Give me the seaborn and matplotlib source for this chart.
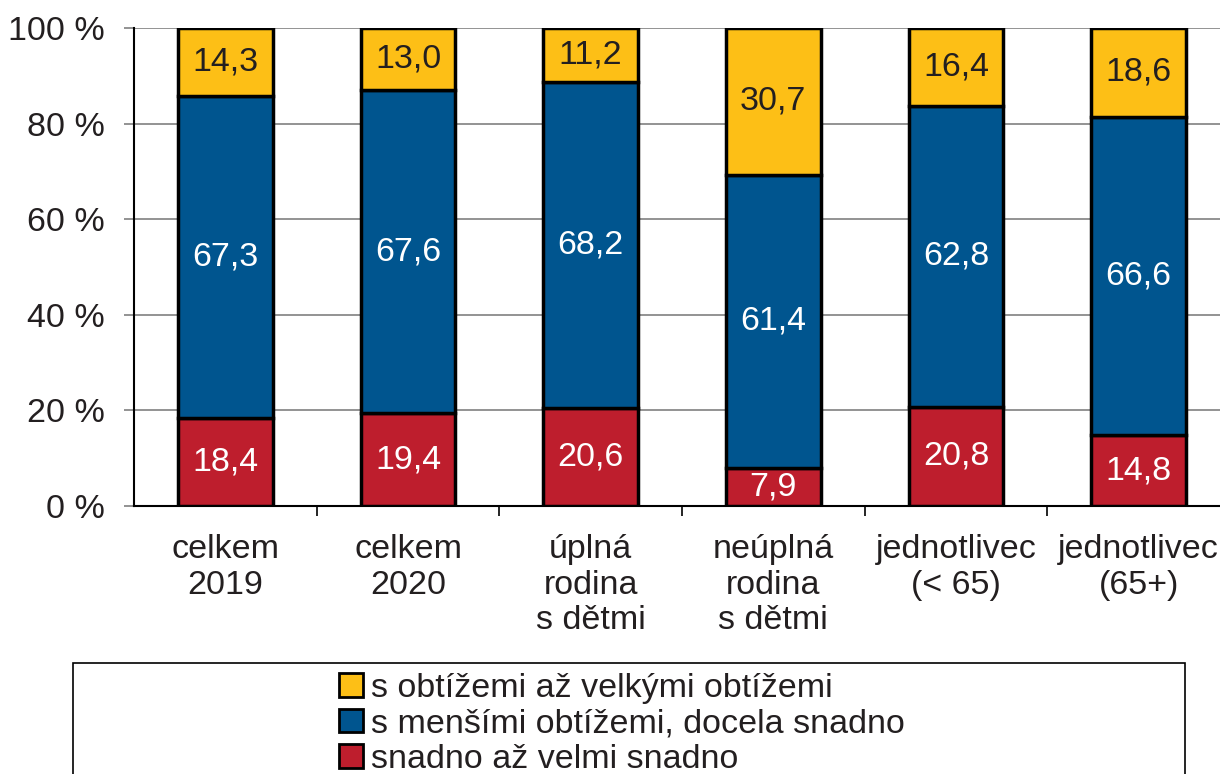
import pandas as pd
import matplotlib.pyplot as plt
import seaborn as sns
from matplotlib.patches import Rectangle, Patch

kategorie = ['celkem\n2019', 'celkem\n2020', 'úplná\nrodina\ns dětmi',
             'neúplná\nrodina\ns dětmi', 'jednotlivec\n(< 65)', 'jednotlivec\n(65+)']
snadno = [18.4, 19.4, 20.6, 7.9, 20.8, 14.8]
mensi = [67.3, 67.6, 68.2, 61.4, 62.8, 66.6]
obtize = [14.3, 13.0, 11.2, 30.7, 16.4, 18.6]
legenda = ['s obtížemi až velkými obtížemi',
           's menšími obtížemi, docela snadno',
           'snadno až velmi snadno']
barvy = ['#FDBF16', '#00558F', '#BE1E2D']

sns.set_style('white')
plt.rcParams['font.family'] = ['Liberation Sans', 'DejaVu Sans']
text_col = '#231F20'
fs = 24.5

df = pd.DataFrame({'kat': kategorie, 'snadno': snadno, 'mensi': mensi, 'obtize': obtize})
df['b2'] = df['snadno']
df['b3'] = df['snadno'] + df['mensi']

fig = plt.figure(figsize=(12.2, 7.74), dpi=100)
ax = fig.add_axes([134 / 1220, (774 - 506) / 774, 1096 / 1220, 478 / 774])

kw = dict(width=0.52, edgecolor='black', linewidth=2.5, saturation=1, ax=ax, zorder=3)
sns.barplot(data=df, x='kat', y='snadno', color=barvy[2], **kw)
sns.barplot(data=df, x='kat', y='mensi', bottom=df['b2'], color=barvy[1], **kw)
sns.barplot(data=df, x='kat', y='obtize', bottom=df['b3'], color=barvy[0], **kw)

# popisky hodnot
for i in range(len(kategorie)):
    ax.text(i, snadno[i] / 2, f'{snadno[i]:.1f}'.replace('.', ','), ha='center', va='center',
            color='white', fontsize=fs, zorder=5)
    ax.text(i, snadno[i] + mensi[i] / 2, f'{mensi[i]:.1f}'.replace('.', ','), ha='center',
            va='center', color='white', fontsize=fs, zorder=5)
    ax.text(i, snadno[i] + mensi[i] + obtize[i] / 2, f'{obtize[i]:.1f}'.replace('.', ','),
            ha='center', va='center', color=text_col, fontsize=fs, zorder=5)

ax.set_xlim(-0.5, 5.5)
ax.set_ylim(0, 100)
ax.set_yticks([0, 20, 40, 60, 80, 100])
ax.set_yticklabels([f'{v} %' for v in [0, 20, 40, 60, 80, 100]], fontsize=fs, color=text_col)
ax.yaxis.grid(True, color='#808080', linewidth=1.2, zorder=0)
ax.set_axisbelow(True)
ax.tick_params(axis='y', length=7, width=1.2, color='#808080', pad=14, left=True)

ax.set_xticks(range(6))
ax.set_xticklabels(kategorie, fontsize=fs, color=text_col, linespacing=1.2)
ax.tick_params(axis='x', length=0, pad=20)
ax.set_xticks([i + 0.5 for i in range(5)], minor=True)
ax.tick_params(axis='x', which='minor', length=7, width=1.2, color='black', bottom=True)
ax.set_xlabel('')
ax.set_ylabel('')

for s in ['top', 'right']:
    ax.spines[s].set_visible(False)
ax.spines['left'].set_color('black')
ax.spines['bottom'].set_color('black')
ax.spines['left'].set_linewidth(1.5)
ax.spines['bottom'].set_linewidth(1.5)

# legenda
fig.patches.append(Rectangle((73 / 1220, -0.05), (1185 - 73) / 1220, (774 - 663) / 774 + 0.05,
                             transform=fig.transFigure, fill=False, edgecolor='black',
                             linewidth=1.2))
handles = [Patch(facecolor=c, edgecolor='black', linewidth=2) for c in barvy]
fig.legend(handles, legenda, loc='upper left', bbox_to_anchor=(322 / 1220, 1 - 656 / 774),
           frameon=False, fontsize=fs, handlelength=0.7, handleheight=0.7,
           handletextpad=0.25, labelspacing=0.13, borderpad=0, labelcolor=text_col)

fig.savefig('out.png', dpi=100)
